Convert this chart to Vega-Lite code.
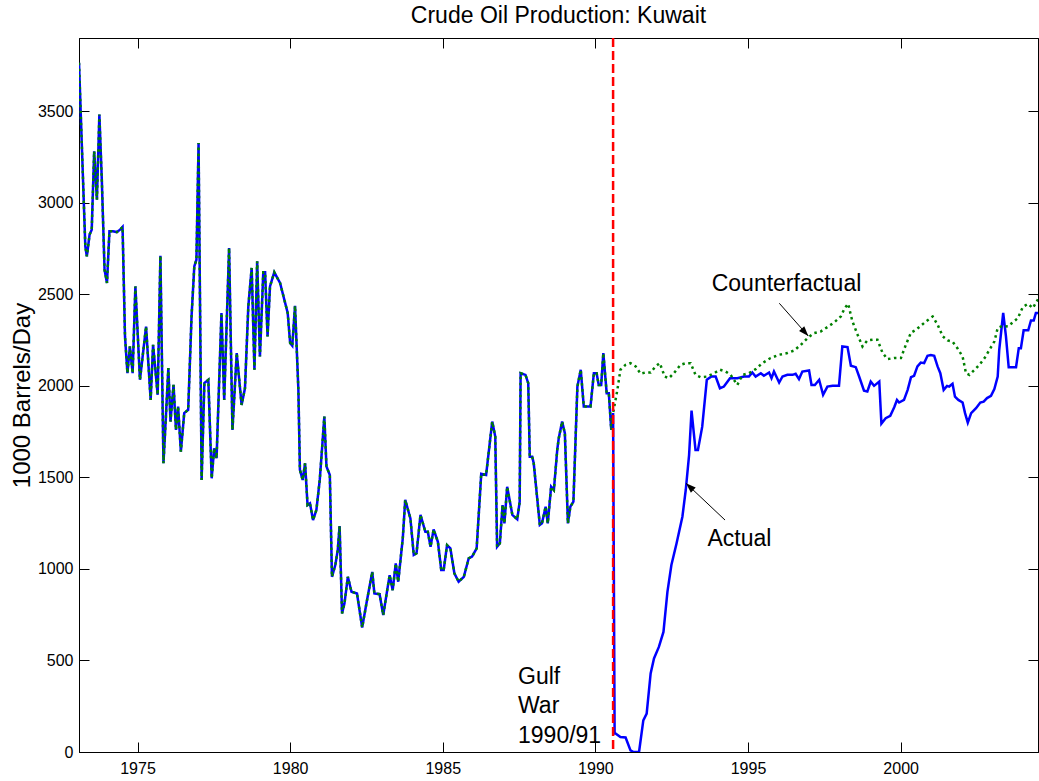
{
"$schema": "https://vega.github.io/schema/vega-lite/v6.json",
"autosize": {"type": "none"},
"padding": {"left": 79, "top": 38, "right": 1, "bottom": 29},
"width": 959,
"height": 714,
"background": "white",
"config": {
"view": {"stroke": "black", "strokeWidth": 1},
"font": "Liberation Sans",
"axis": {"tickSize": -10, "tickColor": "black", "tickWidth": 1, "domainColor": "black", "domainWidth": 1, "labelFontSize": 16, "labelColor": "black", "labelFont": "Liberation Sans", "grid": false, "titleFont": "Liberation Sans", "titleFontSize": 24, "titleFontWeight": "normal", "titleColor": "black"},
"axisX": {"labelPadding": 18},
"axisY": {"labelPadding": 16}
},
"title": {"text": "Crude Oil Production: Kuwait", "fontSize": 23, "fontWeight": "normal", "baseline": "alphabetic", "offset": 13, "dy": 22, "color": "black", "font": "Liberation Sans"},
"datasets": {
"prod": [
{"s":"h","t":1973.083,"v":3765},{"s":"h","t":1973.29,"v":2762},{"s":"h","t":1973.34,"v":2707},{"s":"h","t":1973.43,"v":2826},{"s":"h","t":1973.50,"v":2853},{"s":"h","t":1973.58,"v":3281},{"s":"h","t":1973.67,"v":3017},{"s":"h","t":1973.75,"v":3482},{"s":"h","t":1973.83,"v":3127},{"s":"h","t":1973.92,"v":2634},{"s":"h","t":1974.00,"v":2562},{"s":"h","t":1974.08,"v":2844},{"s":"h","t":1974.19,"v":2844},{"s":"h","t":1974.32,"v":2840},{"s":"h","t":1974.43,"v":2853},{"s":"h","t":1974.51,"v":2868},{"s":"h","t":1974.59,"v":2270},{"s":"h","t":1974.67,"v":2069},{"s":"h","t":1974.75,"v":2215},{"s":"h","t":1974.84,"v":2069},{"s":"h","t":1974.93,"v":2543},{"s":"h","t":1975.08,"v":2033},{"s":"h","t":1975.28,"v":2324},{"s":"h","t":1975.43,"v":1923},{"s":"h","t":1975.51,"v":2224},{"s":"h","t":1975.66,"v":1951},{"s":"h","t":1975.75,"v":2711},{"s":"h","t":1975.85,"v":1577},{"s":"h","t":1975.93,"v":1832},{"s":"h","t":1976.01,"v":2097},{"s":"h","t":1976.08,"v":1805},{"s":"h","t":1976.18,"v":2005},{"s":"h","t":1976.26,"v":1759},{"s":"h","t":1976.33,"v":1887},{"s":"h","t":1976.42,"v":1641},{"s":"h","t":1976.53,"v":1851},{"s":"h","t":1976.66,"v":1869},{"s":"h","t":1976.77,"v":2379},{"s":"h","t":1976.86,"v":2652},{"s":"h","t":1976.93,"v":2689},{"s":"h","t":1977.00,"v":3327},{"s":"h","t":1977.10,"v":1486},{"s":"h","t":1977.19,"v":2015},{"s":"h","t":1977.32,"v":2033},{"s":"h","t":1977.43,"v":1495},{"s":"h","t":1977.51,"v":1659},{"s":"h","t":1977.59,"v":1605},{"s":"h","t":1977.75,"v":2398},{"s":"h","t":1977.84,"v":1923},{"s":"h","t":1978.00,"v":2753},{"s":"h","t":1978.11,"v":1759},{"s":"h","t":1978.25,"v":2179},{"s":"h","t":1978.41,"v":1896},{"s":"h","t":1978.52,"v":1987},{"s":"h","t":1978.63,"v":2434},{"s":"h","t":1978.74,"v":2644},{"s":"h","t":1978.83,"v":2088},{"s":"h","t":1978.92,"v":2680},{"s":"h","t":1979.01,"v":2160},{"s":"h","t":1979.12,"v":2620},{"s":"h","t":1979.18,"v":2620},{"s":"h","t":1979.26,"v":2270},{"s":"h","t":1979.34,"v":2543},{"s":"h","t":1979.48,"v":2620},{"s":"h","t":1979.67,"v":2562},{"s":"h","t":1979.92,"v":2398},{"s":"h","t":1980.00,"v":2234},{"s":"h","t":1980.07,"v":2219},{"s":"h","t":1980.16,"v":2437},{"s":"h","t":1980.27,"v":1978},{"s":"h","t":1980.32,"v":1541},{"s":"h","t":1980.41,"v":1486},{"s":"h","t":1980.49,"v":1577},{"s":"h","t":1980.57,"v":1349},{"s":"h","t":1980.65,"v":1358},{"s":"h","t":1980.75,"v":1267},{"s":"h","t":1980.86,"v":1322},{"s":"h","t":1980.97,"v":1486},{"s":"h","t":1981.05,"v":1668},{"s":"h","t":1981.12,"v":1832},{"s":"h","t":1981.19,"v":1559},{"s":"h","t":1981.30,"v":1513},{"s":"h","t":1981.37,"v":957},{"s":"h","t":1981.48,"v":1021},{"s":"h","t":1981.56,"v":1103},{"s":"h","t":1981.62,"v":1234},{"s":"h","t":1981.70,"v":757},{"s":"h","t":1981.78,"v":812},{"s":"h","t":1981.89,"v":957},{"s":"h","t":1982.01,"v":875},{"s":"h","t":1982.19,"v":866},{"s":"h","t":1982.36,"v":680},{"s":"h","t":1982.50,"v":812},{"s":"h","t":1982.69,"v":984},{"s":"h","t":1982.76,"v":866},{"s":"h","t":1982.93,"v":862},{"s":"h","t":1983.05,"v":748},{"s":"h","t":1983.18,"v":884},{"s":"h","t":1983.26,"v":966},{"s":"h","t":1983.36,"v":884},{"s":"h","t":1983.46,"v":1030},{"s":"h","t":1983.54,"v":930},{"s":"h","t":1983.69,"v":1167},{"s":"h","t":1983.77,"v":1377},{"s":"h","t":1983.94,"v":1276},{"s":"h","t":1984.05,"v":1076},{"s":"h","t":1984.14,"v":1085},{"s":"h","t":1984.27,"v":1295},{"s":"h","t":1984.43,"v":1203},{"s":"h","t":1984.51,"v":1203},{"s":"h","t":1984.60,"v":1121},{"s":"h","t":1984.70,"v":1216},{"s":"h","t":1984.84,"v":1148},{"s":"h","t":1984.95,"v":994},{"s":"h","t":1985.03,"v":994},{"s":"h","t":1985.14,"v":1130},{"s":"h","t":1985.25,"v":1112},{"s":"h","t":1985.38,"v":976},{"s":"h","t":1985.52,"v":930},{"s":"h","t":1985.69,"v":957},{"s":"h","t":1985.85,"v":1058},{"s":"h","t":1985.96,"v":1067},{"s":"h","t":1986.11,"v":1112},{"s":"h","t":1986.26,"v":1519},{"s":"h","t":1986.42,"v":1513},{"s":"h","t":1986.62,"v":1805},{"s":"h","t":1986.72,"v":1723},{"s":"h","t":1986.78,"v":1121},{"s":"h","t":1986.87,"v":1140},{"s":"h","t":1986.96,"v":1349},{"s":"h","t":1987.02,"v":1249},{"s":"h","t":1987.11,"v":1449},{"s":"h","t":1987.28,"v":1295},{"s":"h","t":1987.44,"v":1271},{"s":"h","t":1987.52,"v":1367},{"s":"h","t":1987.55,"v":2069},{"s":"h","t":1987.71,"v":2060},{"s":"h","t":1987.80,"v":2015},{"s":"h","t":1987.85,"v":1613},{"s":"h","t":1987.93,"v":1613},{"s":"h","t":1987.98,"v":1577},{"s":"h","t":1988.18,"v":1240},{"s":"h","t":1988.25,"v":1249},{"s":"h","t":1988.37,"v":1340},{"s":"h","t":1988.44,"v":1249},{"s":"h","t":1988.55,"v":1449},{"s":"h","t":1988.64,"v":1431},{"s":"h","t":1988.75,"v":1650},{"s":"h","t":1988.80,"v":1714},{"s":"h","t":1988.91,"v":1805},{"s":"h","t":1989.00,"v":1741},{"s":"h","t":1989.10,"v":1249},{"s":"h","t":1989.18,"v":1340},{"s":"h","t":1989.28,"v":1367},{"s":"h","t":1989.41,"v":1996},{"s":"h","t":1989.52,"v":2088},{"s":"h","t":1989.62,"v":1887},{"s":"h","t":1989.84,"v":1887},{"s":"h","t":1989.95,"v":2069},{"s":"h","t":1990.04,"v":2069},{"s":"h","t":1990.11,"v":2005},{"s":"h","t":1990.19,"v":2005},{"s":"h","t":1990.26,"v":2179},{"s":"h","t":1990.37,"v":1960},{"s":"h","t":1990.44,"v":1960},{"s":"h","t":1990.52,"v":1759},{"s":"h","t":1990.58,"v":1851},
{"s":"a","t":1990.63,"v":101},{"s":"a","t":1990.66,"v":101},{"s":"a","t":1990.82,"v":82},{"s":"a","t":1990.99,"v":79},{"s":"a","t":1991.15,"v":9},{"s":"a","t":1991.25,"v":0},{"s":"a","t":1991.43,"v":0},{"s":"a","t":1991.57,"v":173},{"s":"a","t":1991.68,"v":210},{"s":"a","t":1991.81,"v":429},{"s":"a","t":1991.92,"v":511},{"s":"a","t":1992.08,"v":574},{"s":"a","t":1992.23,"v":656},{"s":"a","t":1992.36,"v":875},{"s":"a","t":1992.49,"v":1021},{"s":"a","t":1992.66,"v":1140},{"s":"a","t":1992.85,"v":1285},{"s":"a","t":1992.96,"v":1431},{"s":"a","t":1993.07,"v":1623},{"s":"a","t":1993.15,"v":1865},{"s":"a","t":1993.28,"v":1650},{"s":"a","t":1993.36,"v":1650},{"s":"a","t":1993.50,"v":1777},{"s":"a","t":1993.65,"v":2033},{"s":"a","t":1993.80,"v":2051},{"s":"a","t":1993.94,"v":2051},{"s":"a","t":1994.08,"v":1987},{"s":"a","t":1994.21,"v":1996},{"s":"a","t":1994.41,"v":2042},{"s":"a","t":1994.65,"v":2042},{"s":"a","t":1994.87,"v":2051},{"s":"a","t":1995.03,"v":2051},{"s":"a","t":1995.14,"v":2073},{"s":"a","t":1995.25,"v":2051},{"s":"a","t":1995.42,"v":2069},{"s":"a","t":1995.52,"v":2055},{"s":"a","t":1995.69,"v":2073},{"s":"a","t":1995.77,"v":2042},{"s":"a","t":1995.85,"v":2078},{"s":"a","t":1996.02,"v":2018},{"s":"a","t":1996.13,"v":2051},{"s":"a","t":1996.29,"v":2060},{"s":"a","t":1996.46,"v":2060},{"s":"a","t":1996.56,"v":2066},{"s":"a","t":1996.67,"v":2037},{"s":"a","t":1996.78,"v":2078},{"s":"a","t":1997.00,"v":2084},{"s":"a","t":1997.08,"v":2005},{"s":"a","t":1997.19,"v":2005},{"s":"a","t":1997.33,"v":2033},{"s":"a","t":1997.46,"v":1951},{"s":"a","t":1997.60,"v":1996},{"s":"a","t":1997.77,"v":2000},{"s":"a","t":1997.98,"v":2000},{"s":"a","t":1998.09,"v":2215},{"s":"a","t":1998.26,"v":2212},{"s":"a","t":1998.37,"v":2110},{"s":"a","t":1998.53,"v":2102},{"s":"a","t":1998.64,"v":2051},{"s":"a","t":1998.80,"v":1974},{"s":"a","t":1998.91,"v":1969},{"s":"a","t":1999.02,"v":2023},{"s":"a","t":1999.13,"v":2000},{"s":"a","t":1999.30,"v":2023},{"s":"a","t":1999.37,"v":1794},{"s":"a","t":1999.51,"v":1823},{"s":"a","t":1999.66,"v":1836},{"s":"a","t":1999.79,"v":1883},{"s":"a","t":1999.88,"v":1923},{"s":"a","t":1999.95,"v":1909},{"s":"a","t":2000.11,"v":1923},{"s":"a","t":2000.23,"v":1978},{"s":"a","t":2000.34,"v":2047},{"s":"a","t":2000.44,"v":2055},{"s":"a","t":2000.55,"v":2106},{"s":"a","t":2000.66,"v":2127},{"s":"a","t":2000.77,"v":2124},{"s":"a","t":2000.88,"v":2164},{"s":"a","t":2000.99,"v":2168},{"s":"a","t":2001.10,"v":2164},{"s":"a","t":2001.21,"v":2106},{"s":"a","t":2001.30,"v":2069},{"s":"a","t":2001.41,"v":1978},{"s":"a","t":2001.52,"v":2000},{"s":"a","t":2001.59,"v":1996},{"s":"a","t":2001.70,"v":2011},{"s":"a","t":2001.78,"v":1941},{"s":"a","t":2001.89,"v":1923},{"s":"a","t":2002.03,"v":1909},{"s":"a","t":2002.11,"v":1851},{"s":"a","t":2002.20,"v":1799},{"s":"a","t":2002.31,"v":1851},{"s":"a","t":2002.47,"v":1878},{"s":"a","t":2002.61,"v":1909},{"s":"a","t":2002.72,"v":1914},{"s":"a","t":2002.83,"v":1933},{"s":"a","t":2002.96,"v":1945},{"s":"a","t":2003.07,"v":1982},{"s":"a","t":2003.18,"v":2051},{"s":"a","t":2003.23,"v":2197},{"s":"a","t":2003.36,"v":2398},{"s":"a","t":2003.45,"v":2270},{"s":"a","t":2003.54,"v":2102},{"s":"a","t":2003.78,"v":2102},{"s":"a","t":2003.87,"v":2206},{"s":"a","t":2003.94,"v":2206},{"s":"a","t":2004.03,"v":2303},{"s":"a","t":2004.18,"v":2303},{"s":"a","t":2004.27,"v":2357},{"s":"a","t":2004.36,"v":2357},{"s":"a","t":2004.43,"v":2398},{"s":"a","t":2004.56,"v":2398},
{"s":"c","t":1990.72,"v":1978},{"s":"c","t":1990.82,"v":2088},{"s":"c","t":1990.99,"v":2115},{"s":"c","t":1991.15,"v":2124},{"s":"c","t":1991.32,"v":2106},{"s":"c","t":1991.48,"v":2066},{"s":"c","t":1991.64,"v":2073},{"s":"c","t":1991.81,"v":2073},{"s":"c","t":1991.97,"v":2106},{"s":"c","t":1992.11,"v":2124},{"s":"c","t":1992.27,"v":2051},{"s":"c","t":1992.41,"v":2042},{"s":"c","t":1992.57,"v":2069},{"s":"c","t":1992.79,"v":2115},{"s":"c","t":1992.96,"v":2124},{"s":"c","t":1993.12,"v":2124},{"s":"c","t":1993.28,"v":2060},{"s":"c","t":1993.45,"v":2047},{"s":"c","t":1993.67,"v":2051},{"s":"c","t":1993.89,"v":2069},{"s":"c","t":1994.08,"v":2088},{"s":"c","t":1994.27,"v":2078},{"s":"c","t":1994.43,"v":2060},{"s":"c","t":1994.65,"v":2005},{"s":"c","t":1994.82,"v":2060},{"s":"c","t":1995.03,"v":2069},{"s":"c","t":1995.25,"v":2091},{"s":"c","t":1995.47,"v":2124},{"s":"c","t":1995.74,"v":2152},{"s":"c","t":1996.02,"v":2170},{"s":"c","t":1996.29,"v":2179},{"s":"c","t":1996.51,"v":2193},{"s":"c","t":1996.73,"v":2224},{"s":"c","t":1996.95,"v":2261},{"s":"c","t":1997.16,"v":2288},{"s":"c","t":1997.38,"v":2297},{"s":"c","t":1997.60,"v":2321},{"s":"c","t":1997.82,"v":2346},{"s":"c","t":1998.04,"v":2379},{"s":"c","t":1998.17,"v":2425},{"s":"c","t":1998.28,"v":2448},{"s":"c","t":1998.42,"v":2352},{"s":"c","t":1998.59,"v":2279},{"s":"c","t":1998.75,"v":2215},{"s":"c","t":1998.91,"v":2248},{"s":"c","t":1999.08,"v":2252},{"s":"c","t":1999.24,"v":2252},{"s":"c","t":1999.41,"v":2179},{"s":"c","t":1999.57,"v":2146},{"s":"c","t":1999.79,"v":2152},{"s":"c","t":2000.01,"v":2152},{"s":"c","t":2000.17,"v":2224},{"s":"c","t":2000.34,"v":2291},{"s":"c","t":2000.50,"v":2306},{"s":"c","t":2000.66,"v":2328},{"s":"c","t":2000.83,"v":2352},{"s":"c","t":2001.05,"v":2379},{"s":"c","t":2001.21,"v":2334},{"s":"c","t":2001.38,"v":2270},{"s":"c","t":2001.54,"v":2248},{"s":"c","t":2001.70,"v":2242},{"s":"c","t":2001.86,"v":2206},{"s":"c","t":2002.03,"v":2160},{"s":"c","t":2002.14,"v":2069},{"s":"c","t":2002.25,"v":2060},{"s":"c","t":2002.42,"v":2088},{"s":"c","t":2002.58,"v":2115},{"s":"c","t":2002.75,"v":2152},{"s":"c","t":2002.91,"v":2197},{"s":"c","t":2003.07,"v":2242},{"s":"c","t":2003.18,"v":2316},{"s":"c","t":2003.34,"v":2328},{"s":"c","t":2003.51,"v":2324},{"s":"c","t":2003.67,"v":2346},{"s":"c","t":2003.84,"v":2370},{"s":"c","t":2004.00,"v":2430},{"s":"c","t":2004.17,"v":2448},{"s":"c","t":2004.33,"v":2425},{"s":"c","t":2004.49,"v":2470},{"s":"c","t":2004.56,"v":2510}
],
"events": [{"event": "Gulf War", "t": 1990.58}],
"notes": [
{"label": "Counterfactual", "t": 1993.81, "v": 2520},
{"label": "Actual", "t": 1993.67, "v": 1127},
{"label": "Gulf\nWar\n1990/91", "t": 1987.465, "v": 371}
],
"arrows": [
{"name": "counterfactual", "t": 1996.025, "v": 2451, "t2": 1996.975, "v2": 2272},
{"name": "actual", "t": 1994.247, "v": 1267, "t2": 1992.969, "v2": 1468}
]
},
"resolve": {"axis": {"x": "independent", "y": "independent"}},
"layer": [
{
"data": {"name": "prod"},
"transform": [{"filter": "datum.s !== 'c'"}],
"mark": {"type": "line", "color": "#0000ff", "strokeWidth": 2.5, "clip": true},
"encoding": {
"x": {"field": "t", "type": "quantitative", "scale": {"domain": [1973.083, 2004.5], "nice": false, "zero": false},
"axis": {"title": null, "values": [1975, 1980, 1985, 1990, 1995, 2000], "format": "d"}},
"y": {"field": "v", "type": "quantitative", "scale": {"domain": [0, 3900], "nice": false},
"axis": {"title": "1000 Barrels/Day", "values": [0, 500, 1000, 1500, 2000, 2500, 3000, 3500], "format": "d", "titlePadding": 3}}
}
},
{
"data": {"name": "prod"},
"transform": [{"filter": "datum.s !== 'a'"}],
"mark": {"type": "line", "color": "#008000", "strokeWidth": 2.5, "strokeDash": [2.5, 3.5], "clip": true},
"encoding": {
"x": {"field": "t", "type": "quantitative", "axis": {"orient": "top", "title": null, "labels": false, "values": [1975, 1980, 1985, 1990, 1995, 2000]}},
"y": {"field": "v", "type": "quantitative", "axis": {"orient": "right", "title": null, "labels": false, "values": [0, 500, 1000, 1500, 2000, 2500, 3000, 3500]}}
}
},
{
"data": {"name": "events"},
"mark": {"type": "rule", "color": "#ff0000", "strokeWidth": 2.5, "strokeDash": [9, 4]},
"encoding": {
"x": {"field": "t", "type": "quantitative", "axis": null}
}
},
{
"data": {"name": "notes"},
"mark": {"type": "text", "align": "left", "baseline": "alphabetic", "fontSize": 23, "font": "Liberation Sans", "color": "black", "lineBreak": "\n", "lineHeight": 29.4},
"encoding": {
"x": {"field": "t", "type": "quantitative", "axis": null},
"y": {"field": "v", "type": "quantitative", "axis": null},
"text": {"field": "label"}
}
},
{
"data": {"name": "arrows"},
"mark": {"type": "rule", "color": "black", "strokeWidth": 1},
"encoding": {
"x": {"field": "t", "type": "quantitative", "axis": null},
"y": {"field": "v", "type": "quantitative", "axis": null},
"x2": {"field": "t2"},
"y2": {"field": "v2"}
}
},
{
"data": {"name": "arrows"},
"transform": [{"filter": "datum.name === 'counterfactual'"}],
"mark": {"type": "point", "shape": "M0,0 L0.35,1 L-0.35,1 Z", "filled": true, "color": "black", "opacity": 1, "size": 400, "angle": 138.4, "strokeWidth": 0},
"encoding": {
"x": {"field": "t2", "type": "quantitative", "axis": null},
"y": {"field": "v2", "type": "quantitative", "axis": null}
}
},
{
"data": {"name": "arrows"},
"transform": [{"filter": "datum.name === 'actual'"}],
"mark": {"type": "point", "shape": "M0,0 L0.35,1 L-0.35,1 Z", "filled": true, "color": "black", "opacity": 1, "size": 400, "angle": 313.3, "strokeWidth": 0},
"encoding": {
"x": {"field": "t2", "type": "quantitative", "axis": null},
"y": {"field": "v2", "type": "quantitative", "axis": null}
}
}
]
}
